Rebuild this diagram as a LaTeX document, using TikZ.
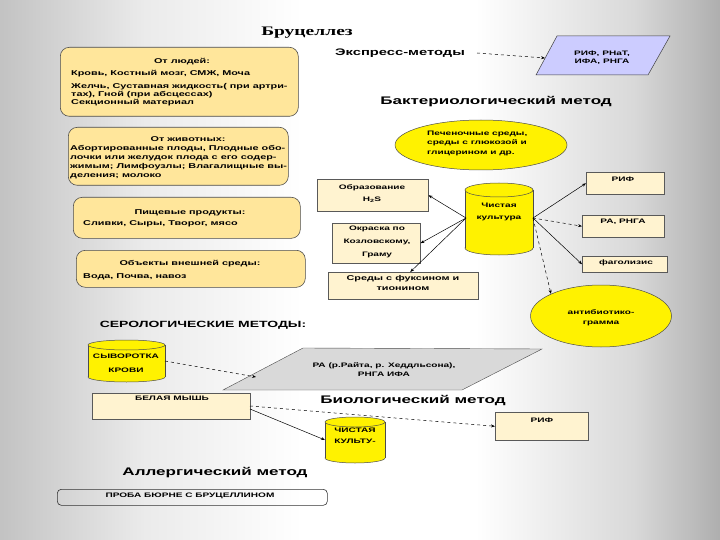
\documentclass[tikz,border=0pt]{standalone}
\usepackage{fontspec}
\setmainfont{Liberation Sans}[FakeStretch=1.55]
\newfontfamily\titlefont{Liberation Serif}[FakeStretch=1.5]
\usetikzlibrary{shapes.geometric,arrows.meta}
\definecolor{srcfill}{RGB}{255,230,155}
\definecolor{cream}{RGB}{255,243,208}
\definecolor{lav}{RGB}{204,204,255}
\definecolor{pgrey}{RGB}{217,217,217}
\pgfdeclarehorizontalshading{bgshade}{100bp}{color(0bp)=(black); color(4bp)=(black!80!white); color(10bp)=(black!60!white); color(21bp)=(black!30!white); color(35bp)=(black!8!white); color(46bp)=(white); color(58bp)=(white); color(69bp)=(black!15!white); color(78bp)=(black!40!white); color(86bp)=(black!65!white); color(94bp)=(black!88!white); color(100bp)=(black)}
\tikzset{
  srcbox/.style={draw=black!70, fill=srcfill, rounded corners=9pt, line width=0.6pt, inner sep=0pt, anchor=north west},
  cbox/.style={draw=black!65, fill=cream, line width=0.5pt, inner sep=0pt, anchor=north west},
  hd/.style={font=\bfseries\fontsize{7}{8.5}\selectfont, inner sep=0pt},
  bd/.style={font=\bfseries\fontsize{7}{9}\selectfont, inner sep=0pt, align=left},
  sm/.style={font=\bfseries\fontsize{6.5}{8}\selectfont, inner sep=0pt, align=center},
  bighd/.style={font=\bfseries\fontsize{11}{13}\selectfont, inner sep=0pt},
  midhd/.style={font=\bfseries\fontsize{9.5}{11}\selectfont, inner sep=0pt},
  anchorbox/.style={inner sep=0pt, outer sep=0pt},
  cylst/.style={draw=black!70, fill=yellow, line width=0.5pt},
  yell/.style={ellipse, draw=black!70, fill=yellow, line width=0.5pt, inner sep=0pt},
  arr/.style={draw=black, line width=0.5pt, -{Stealth[length=4pt,width=3pt]}},
  darr/.style={arr, dashed}
}
% cx, top, halfwidth, height, cap radius
\newcommand{\drawcyl}[5]{%
  \filldraw[cylst] (#1,#2+#4-#5) ellipse[x radius=#3, y radius=#5];
  \fill[yellow] (#1-#3,#2+#5) rectangle (#1+#3,#2+#4-#5);
  \draw[draw=black!70, line width=0.5pt] (#1-#3,#2+#5) -- (#1-#3,#2+#4-#5) (#1+#3,#2+#5) -- (#1+#3,#2+#4-#5);
  \filldraw[cylst] (#1,#2+#5) ellipse[x radius=#3, y radius=#5];
}
\begin{document}
\begin{tikzpicture}[x=1pt,y=-1pt]
\shade[shading=bgshade] (0,0) rectangle (720,540);
\useasboundingbox (0,0) rectangle (720,540);

\node[font=\titlefont\bfseries\fontsize{13}{15}\selectfont, inner sep=0pt] (title) at (307,33) {Бруцеллез};

% sources
\node[srcbox, minimum width=238pt, minimum height=69pt] (src1) at (60,47) {};
\node[hd] (src1t) at (182,62) {От людей:};
\node[bd, anchor=west] (src1a) at (71,74) {Кровь, Костный мозг, СМЖ, Моча};
\node[bd, anchor=north west, font=\bfseries\fontsize{7}{8}\selectfont] (src1b) at (71,83) {Желчь, Суставная жидкость( при артри-\\тах), Гной (при абсцессах)\\Секционный материал};

\node[srcbox, minimum width=220pt, minimum height=58pt] (src2) at (68,127) {};
\node[hd] (src2t) at (188,139) {От животных:};
\node[bd, anchor=north west] (src2b) at (70,145) {Абортированные плоды, Плодные обо-\\лочки или желудок плода с его содер-\\жимым; Лимфоузлы; Влагалищные вы-\\деления; молоко};

\node[srcbox, minimum width=227pt, minimum height=41pt] (src3) at (73,197) {};
\node[hd] (src3t) at (190,213) {Пищевые продукты:};
\node[bd, anchor=west] (src3b) at (83,224) {Сливки, Сыры, Творог, мясо};

\node[srcbox, minimum width=229pt, minimum height=37pt] (src4) at (76,250) {};
\node[hd] (src4t) at (190,264) {Объекты внешней среды:};
\node[bd, anchor=west] (src4b) at (83,277) {Вода, Почва, навоз};

% express
\node[midhd] (expr) at (400,53) {Экспресс-методы};
\coordinate (p1) at (557,36);
\coordinate (p2) at (670,36);
\coordinate (p3) at (648,75);
\coordinate (p4) at (536,75);
\draw[fill=lav, draw=black!75, line width=0.5pt] (p1) -- (p2) -- (p3) -- (p4) -- cycle;
\node[sm] (exprt) at (602,57.5) {РИФ, РНаТ,\\ИФА, РНГА};
\coordinate (exprin) at (545,58);
\coordinate (exprout) at (477,53);
\draw[darr] (exprout) -- (exprin);

% bacteriological
\node[bighd] (bact) at (496,102) {Бактериологический метод};
\node[yell, minimum width=172pt, minimum height=50pt] (pech) at (481,145) {};
\node[bd, anchor=west, font=\bfseries\fontsize{6.5}{9.5}\selectfont] (pecht) at (427,143) {Печеночные среды,\\среды с глюкозой и\\глицерином и др.};

\drawcyl{499}{183}{34}{72}{7}
\node[anchorbox, minimum width=68pt, minimum height=72pt] (chist) at (499,219) {};
\node[sm, font=\bfseries\fontsize{6.5}{12}\selectfont] (chistt) at (499,212) {Чистая\\культура};

\node[cbox, minimum width=111pt, minimum height=32pt] (obr) at (317,179) {};
\node[sm, font=\bfseries\fontsize{6.5}{12}\selectfont] (obrt) at (372,194) {Образование\\H\textsubscript{2}S};

\node[cbox, minimum width=88pt, minimum height=40pt] (okr) at (332,223) {};
\node[sm, font=\bfseries\fontsize{6.5}{13}\selectfont] (okrt) at (377,241.5) {Окраска по\\Козловскому,\\Граму};

\node[cbox, minimum width=150pt, minimum height=27pt] (sred) at (328,272) {};
\node[sm, font=\bfseries\fontsize{7}{10}\selectfont] (sredt) at (403,283) {Среды с фуксином и\\тионином};

\node[cbox, minimum width=78pt, minimum height=22pt] (rif1) at (586,172) {};
\node[sm] (rif1t) at (623,179) {РИФ};
\node[cbox, minimum width=82pt, minimum height=22pt] (ra) at (582,215) {};
\node[sm] (rat) at (623,222) {РА, РНГА};
\node[cbox, minimum width=85pt, minimum height=16pt] (fag) at (582,256) {};
\node[sm] (fagt) at (626,263) {фаголизис};
\node[yell, minimum width=141pt, minimum height=62pt] (anti) at (601,316) {};
\node[sm, font=\bfseries\fontsize{6.5}{10}\selectfont] (antit) at (601,318) {антибиотико-\\грамма};

\coordinate (cl) at (466,218);
\coordinate (cr) at (533,218);
\draw[arr] (cl) -- (obr.east);
\draw[arr] (cl) -- (okr.east);
\draw[arr] (cl) -- ([xshift=7pt]sred.north);
\draw[arr] (cr) -- (rif1.west);
\draw[darr] (cr) -- (ra.west);
\draw[arr] (cr) -- (fag.west);
\draw[darr] (cr) -- (anti.north west);

% serological
\node[midhd, font=\bfseries\fontsize{9}{11}\selectfont] (sero) at (203,325) {СЕРОЛОГИЧЕСКИЕ МЕТОДЫ:};
\drawcyl{126.5}{340}{38.5}{42}{5}
\node[anchorbox, minimum width=77pt, minimum height=42pt] (syv) at (126.5,361) {};
\node[sm, font=\bfseries\fontsize{6.5}{14}\selectfont] (syvt) at (126,363) {СЫВОРОТКА\\КРОВИ};
\coordinate (q1) at (303,348);
\coordinate (q2) at (542,349);
\coordinate (q3) at (462,390);
\coordinate (q4) at (223,390);
\draw[fill=pgrey, draw=black!70, line width=0.4pt] (q1) -- (q2) -- (q3) -- (q4) -- cycle;
\node[sm, font=\bfseries\fontsize{6.5}{9}\selectfont] (serot) at (384,369.5) {РА (р.Райта, р. Хеддльсона),\\РНГА ИФА};
\coordinate (seroin) at (256,377);
\draw[darr] (syv.east) -- (seroin);

% biological
\node[cbox, minimum width=158pt, minimum height=26pt] (mouse) at (92,393) {};
\node[sm] (mouset) at (172,398) {БЕЛАЯ МЫШЬ};
\node[bighd] (bio) at (413,401) {Биологический метод};
\node[cbox, minimum width=93pt, minimum height=28pt] (rif2) at (495,412) {};
\node[sm] (rif2t) at (542,420) {РИФ};
\drawcyl{355}{417}{30}{46}{5}
\node[anchorbox, minimum width=60pt, minimum height=46pt] (cult2) at (355,440) {};
\node[sm, font=\bfseries\fontsize{6.5}{11.5}\selectfont] (cult2t) at (355,436) {ЧИСТАЯ\\КУЛЬТУ-};
\coordinate (mouseo1) at (250,406);
\coordinate (mouseo2) at (250,409);
\draw[darr] (mouseo1) -- (rif2.west);
\draw[arr] (mouseo2) -- (cult2.west);

% allergic
\node[bighd] (allerg) at (215,473) {Аллергический метод};
\node[draw=black!80, rounded corners=4pt, line width=0.6pt, minimum width=270pt, minimum height=16pt, inner sep=0pt, anchor=north west] (burne) at (57,489) {};
\node[sm] (burnet) at (190,496) {ПРОБА БЮРНЕ С БРУЦЕЛЛИНОМ};
\end{tikzpicture}
\end{document}
